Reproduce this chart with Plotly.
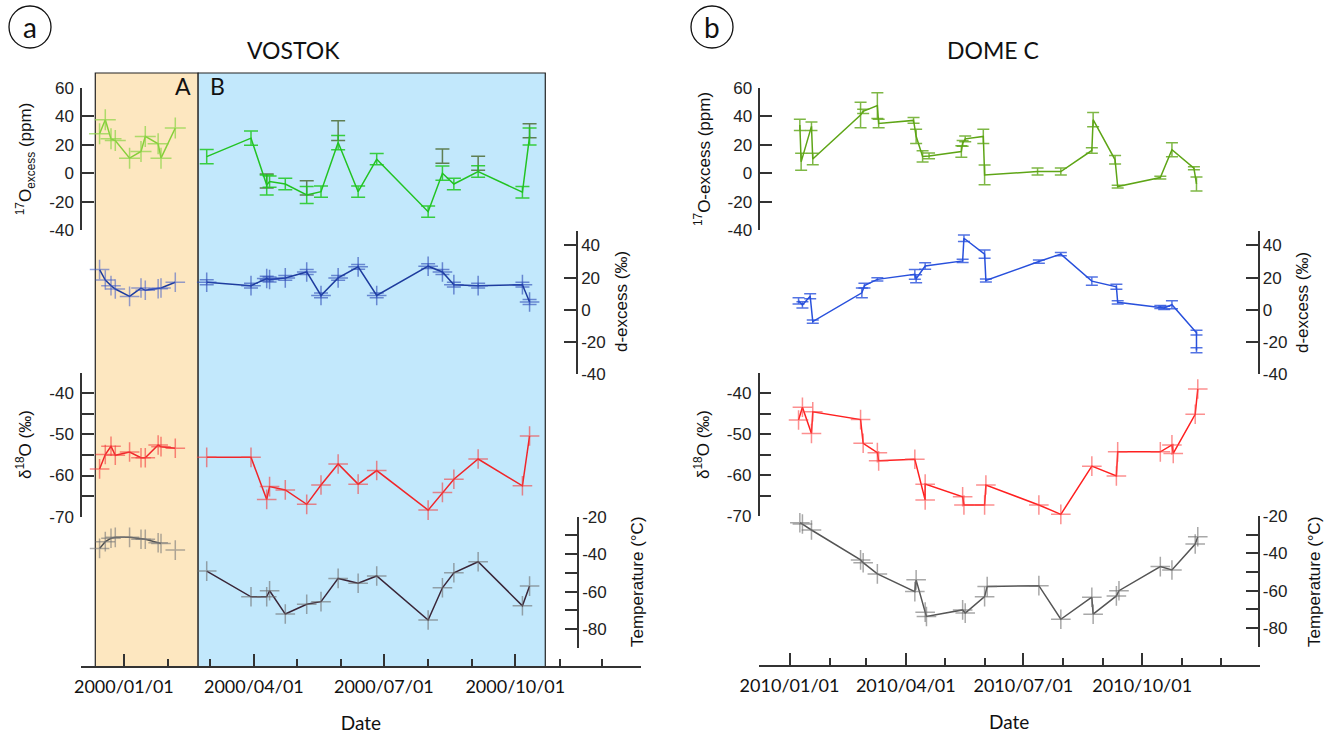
import plotly.graph_objects as go

W, H = 1338, 740


def fx(px):
    return px / W


def fy(py):
    return 1 - py / H


# ---------------- VOSTOK : period A ----------------
vos_a_dates = ["1999-12-15", "1999-12-19", "1999-12-23", "1999-12-26", "2000-01-05",
               "2000-01-13", "2000-01-16", "2000-01-25", "2000-01-27", "2000-02-06"]
vos_a_o17 = [27.8, 37.7, 24.2, 23.0, 10.6, 15.3, 25.9, 20.7, 10.6, 31.8]
vos_a_dex = [25.0, 18.5, 15.0, 12.9, 8.3, 13.5, 12.1, 13.1, 13.5, 17.1]
vos_a_d18o = [-58.4, -54.9, -52.9, -55.1, -54.3, -55.7, -55.7, -52.6, -53.0, -53.4]
vos_a_temp = [-36.9, -33.3, -31.5, -31.0, -31.0, -32.0, -32.0, -33.9, -34.3, -37.8]

# ---------------- VOSTOK : period B ----------------
vos_b_dates = ["2000-02-28", "2000-03-30", "2000-04-10", "2000-04-12", "2000-04-23",
               "2000-05-08", "2000-05-18", "2000-05-30", "2000-06-13", "2000-06-26",
               "2000-08-01", "2000-08-11", "2000-08-19", "2000-09-05", "2000-10-06", "2000-10-11"]
vos_b_o17 = [11.7, 24.7, -8.3, -5.9, -7.6, -15.3, -13.0, 21.6, -13.0, 9.9, -27.1, 0.0, -7.6, 1.2, -13.4, 25.9]
vos_b_o17_err = [5, 5, 7, 4, 4, 6, 4, 5, 4, 4, 4, 5, 4, 4, 4, 6]
vos_b_dex = [17.1, 15.0, 19.4, 18.8, 19.8, 23.5, 8.9, 19.8, 26.7, 8.9, 27.1, 23.5, 15.6, 15.0, 15.6, 4.8]
vos_b_dex_err = [1.5] * 16
vos_b_d18o = [-55.6, -55.6, -65.8, -62.7, -63.5, -67.0, -62.3, -57.2, -62.1, -58.8, -68.4, -64.1, -60.9, -56.0, -62.5, -50.4]
vos_b_temp = [-49.0, -62.7, -62.7, -59.5, -71.9, -66.7, -65.3, -52.9, -55.5, -51.6, -75.1, -57.9, -49.9, -44.0, -67.5, -57.0]

# replicate 17O-excess measurements (darker bars)
vos_rep_dates = ["2000-04-10", "2000-05-08", "2000-05-30", "2000-08-11", "2000-09-05", "2000-10-11"]
vos_rep_o17 = [-5.5, -10.4, 30.0, 12.0, 7.0, 29.9]
vos_rep_err = [5, 5, 7, 5, 5, 5]

vos_regions = [("1999-12-12", "2000-02-22", "#FDE7C0"), ("2000-02-22", "2000-10-22", "#C2E8FC")]

# ---------------- DOME C ----------------
dc_o17_dates = ["2010-01-09", "2010-01-10", "2010-01-18", "2010-01-19", "2010-02-25", "2010-02-27",
                "2010-03-10", "2010-03-11", "2010-04-07", "2010-04-09", "2010-04-14", "2010-04-19",
                "2010-05-14", "2010-05-15", "2010-05-17", "2010-05-31", "2010-06-01", "2010-07-12",
                "2010-07-30", "2010-08-23", "2010-08-24", "2010-09-10", "2010-09-12", "2010-10-15",
                "2010-10-24", "2010-11-10", "2010-11-12"]
dc_o17 = [34.0, 8.0, 33.0, 10.0, 41.0, 43.5, 47.6, 35.0, 37.2, 26.0, 11.8, 12.2, 15.3, 21.0, 24.2,
          25.9, -1.2, 1.2, 1.2, 16.0, 37.7, 9.4, -9.4, -3.1, 16.5, 3.5, -7.6]
dc_o17_err = [4, 6, 3, 4, 9, 1.5, 9, 3, 2, 5, 4, 2, 4, 2, 2, 5, 7, 2.5, 2.5, 2, 5, 3, 1, 1, 5, 1, 5]

dc_dex_dates = ["2010-01-08", "2010-01-11", "2010-01-17", "2010-01-19", "2010-02-26", "2010-02-28",
                "2010-03-10", "2010-04-08", "2010-04-09", "2010-04-16", "2010-05-15", "2010-05-16",
                "2010-06-01", "2010-06-02", "2010-07-13", "2010-07-30", "2010-08-23", "2010-09-11",
                "2010-09-12", "2010-10-15", "2010-10-18", "2010-10-24", "2010-11-12", "2010-11-12"]
dc_dex = [5.5, 3.0, 8.4, -7.4, 10.5, 15.0, 18.9, 22.0, 19.3, 27.2, 30.4, 44.5, 34.6, 18.2, 30.0,
          34.6, 17.8, 14.3, 4.6, 1.7, 1.1, 3.1, -14.3, -25.2]
dc_dex_err = [2, 2, 1.5, 1, 3, 1.5, 1, 3, 2.5, 2, 1, 2, 2.5, 1, 1, 1, 2.5, 1.5, 1, 1, 1, 2.5, 1.5, 1.5]

dc_d18o_dates = ["2010-01-08", "2010-01-11", "2010-01-18", "2010-01-19", "2010-02-25", "2010-02-27",
                 "2010-03-10", "2010-03-11", "2010-04-08", "2010-04-16", "2010-04-16", "2010-05-15",
                 "2010-05-16", "2010-06-01", "2010-06-02", "2010-07-13", "2010-07-30", "2010-08-23",
                 "2010-09-11", "2010-09-12", "2010-10-15", "2010-10-24", "2010-10-25", "2010-11-11",
                 "2010-11-13"]
dc_d18o = [-46.5, -43.4, -49.8, -44.5, -46.4, -52.2, -54.5, -56.5, -56.1, -66.1, -62.2, -65.3, -67.3,
           -67.3, -62.4, -67.3, -69.6, -57.8, -60.2, -54.3, -54.3, -52.6, -54.7, -45.1, -38.9]

dc_temp_dates = ["2010-01-09", "2010-01-11", "2010-01-18", "2010-02-25", "2010-02-27", "2010-03-10",
                 "2010-04-08", "2010-04-09", "2010-04-16", "2010-04-17", "2010-05-15", "2010-05-17",
                 "2010-06-01", "2010-06-03", "2010-07-13", "2010-07-30", "2010-08-23", "2010-08-24",
                 "2010-09-11", "2010-09-13", "2010-10-15", "2010-10-24", "2010-11-11", "2010-11-13"]
dc_temp = [-23.6, -24.3, -27.5, -43.5, -45.0, -51.0, -60.5, -54.2, -71.5, -73.8, -70.3, -72.0, -63.2,
           -57.8, -57.3, -75.3, -63.5, -72.6, -62.8, -60.0, -47.1, -48.9, -35.0, -31.1]

# tick values of the y axes
o17_ticks = [-40, -20, 0, 20, 40, 60]
dex_ticks = [-40, -20, 0, 20, 40]
d18o_ticks = [-70, -60, -50, -40]
d18o_minor = [-65, -55, -45, -35]
temp_ticks = [-80, -60, -40, -20]
temp_minor = [-90, -70, -50, -30]

# axis titles
t_o17_vos = "<sup>17</sup>O<sub>excess</sub> (ppm)"
t_o17_dc = "<sup>17</sup>O-excess (ppm)"
t_dex = "d-excess (‰)"
t_d18o = "δ<sup>18</sup>O (‰)"
t_temp = "Temperature (°C)"
t_date = "Date"

# ---------------- figure ----------------
fig = go.Figure()


def cross(color, size=14):
    return dict(symbol="cross-thin", size=size, line=dict(width=1.5, color=color), color=color)


# Vostok A
fig.add_trace(go.Scatter(x=vos_a_dates, y=vos_a_o17, mode="lines+markers", xaxis="x", yaxis="y",
                         line=dict(color="#86CF3A", width=1.5), marker=cross("rgba(140,212,70,0.7)", 15),
                         cliponaxis=False))
fig.add_trace(go.Scatter(x=vos_a_dates, y=vos_a_dex, mode="lines+markers", xaxis="x", yaxis="y2",
                         line=dict(color="#1E3C9E", width=1.5), marker=cross("rgba(60,90,200,0.55)", 14),
                         cliponaxis=False))
fig.add_trace(go.Scatter(x=vos_a_dates, y=vos_a_d18o, mode="lines+markers", xaxis="x", yaxis="y3",
                         line=dict(color="#F0262A", width=1.5), marker=cross("rgba(245,60,60,0.6)", 14),
                         cliponaxis=False))
fig.add_trace(go.Scatter(x=vos_a_dates[:9], y=vos_a_temp[:9], mode="lines", xaxis="x", yaxis="y4",
                         line=dict(color="#555555", width=1.5), cliponaxis=False))
fig.add_trace(go.Scatter(x=vos_a_dates, y=vos_a_temp, mode="markers", xaxis="x", yaxis="y4",
                         marker=cross("rgba(120,120,120,0.6)", 14), cliponaxis=False))

# Vostok B
fig.add_trace(go.Scatter(x=vos_rep_dates, y=vos_rep_o17, mode="markers", xaxis="x", yaxis="y",
                         marker=dict(size=1, color="rgba(0,0,0,0)"),
                         error_y=dict(type="data", array=vos_rep_err, color="rgba(70,100,40,0.8)",
                                      thickness=1.5, width=7), cliponaxis=False))
fig.add_trace(go.Scatter(x=vos_b_dates, y=vos_b_o17, mode="lines", xaxis="x", yaxis="y",
                         line=dict(color="#22C322", width=1.5),
                         error_y=dict(type="data", array=vos_b_o17_err, color="rgba(30,200,30,0.85)",
                                      thickness=1.5, width=7), cliponaxis=False))
fig.add_trace(go.Scatter(x=vos_b_dates, y=vos_b_dex, mode="lines+markers", xaxis="x", yaxis="y2",
                         line=dict(color="#1E3C9E", width=1.5), marker=cross("rgba(40,70,180,0.6)", 14),
                         error_y=dict(type="data", array=vos_b_dex_err, color="rgba(40,70,180,0.6)",
                                      thickness=1.5, width=7), cliponaxis=False))
fig.add_trace(go.Scatter(x=vos_b_dates, y=vos_b_d18o, mode="lines+markers", xaxis="x", yaxis="y3",
                         line=dict(color="#F0262A", width=1.5), marker=cross("rgba(245,60,60,0.6)", 14),
                         cliponaxis=False))
fig.add_trace(go.Scatter(x=vos_b_dates, y=vos_b_temp, mode="lines+markers", xaxis="x", yaxis="y4",
                         line=dict(color="#3A2638", width=1.5), marker=cross("rgba(110,110,110,0.6)", 14),
                         cliponaxis=False))

# Dome C
fig.add_trace(go.Scatter(x=dc_o17_dates, y=dc_o17, mode="lines", xaxis="x2", yaxis="y5",
                         line=dict(color="#5EA516", width=1.5),
                         error_y=dict(type="data", array=dc_o17_err, color="rgba(94,165,22,0.8)",
                                      thickness=1.5, width=6), cliponaxis=False))
fig.add_trace(go.Scatter(x=dc_dex_dates, y=dc_dex, mode="lines", xaxis="x2", yaxis="y6",
                         line=dict(color="#2850DC", width=1.5),
                         error_y=dict(type="data", array=dc_dex_err, color="rgba(40,80,220,0.8)",
                                      thickness=1.5, width=6), cliponaxis=False))
fig.add_trace(go.Scatter(x=dc_d18o_dates, y=dc_d18o, mode="lines+markers", xaxis="x2", yaxis="y7",
                         line=dict(color="#FF2020", width=1.5), marker=cross("rgba(250,70,70,0.6)", 14),
                         cliponaxis=False))
fig.add_trace(go.Scatter(x=dc_temp_dates, y=dc_temp, mode="lines+markers", xaxis="x2", yaxis="y8",
                         line=dict(color="#555555", width=1.5), marker=cross("rgba(110,110,110,0.6)", 14),
                         cliponaxis=False))

AXC = "#333333"
arial = "Liberation Sans, Arial"
lato = "Lato"
tickfont = dict(family=arial, size=17, color="#222")
titlefont = dict(family=arial, size=17, color="#111")
ycommon = dict(showline=True, linecolor=AXC, linewidth=1.5, ticks="inside", tickcolor=AXC,
               tickwidth=1.5, ticklen=12, showgrid=False, zeroline=False, tickfont=tickfont,
               anchor="free", fixedrange=True, automargin=False, tickmode="array")
xcommon = dict(type="date", showline=True, linecolor=AXC, linewidth=1.5, ticks="inside",
               ticklen=12, tickcolor=AXC, tickwidth=1.5, dtick="M3", tickformat="%Y/%m/%d",
               showgrid=False, zeroline=False, anchor="free", automargin=False,
               ticklabelstandoff=4, fixedrange=True,
               tickfont=dict(family=lato, size=18, color="#111"),
               minor=dict(dtick="M1", ticks="inside", ticklen=7, tickcolor=AXC, tickwidth=1.5,
                          showgrid=False))


def lab(vals):
    return [str(v) for v in vals]


def minor_y(vals):
    return dict(tickmode="array", tickvals=vals, ticks="inside", ticklen=12, tickcolor=AXC,
                tickwidth=1.5, showgrid=False)


def ytitle(text, standoff):
    return dict(text=text, font=titlefont, standoff=standoff)


xtitle = dict(text=t_date, font=dict(family=lato, size=19, color="#111"), standoff=19)

layout = dict(
    width=W, height=H, margin=dict(l=0, r=0, t=0, b=0, pad=0, autoexpand=False),
    paper_bgcolor="white", plot_bgcolor="rgba(0,0,0,0)", showlegend=False,
    xaxis=dict(**xcommon, domain=[fx(81), fx(641)], range=["1999-12-02", "2000-12-28"],
               tick0="2000-01-01", position=fy(667), title=xtitle),
    xaxis2=dict(**xcommon, domain=[fx(758.5), fx(1259.8)], range=["2009-12-08", "2010-12-31"],
                tick0="2010-01-01", position=fy(666), title=xtitle),
    yaxis=dict(**ycommon, domain=[fy(230), fy(88)], range=[-40, 60], tickvals=o17_ticks,
               ticktext=lab(o17_ticks), position=fx(81), side="left", ticklabelstandoff=3,
               title=ytitle(t_o17_vos, 12)),
    yaxis2=dict(**ycommon, domain=[fy(374), fy(231)], range=[-40, 49], tickvals=dex_ticks,
                ticktext=lab(dex_ticks), position=fx(577), side="right"),
    yaxis3=dict(**ycommon, domain=[fy(516.7), fy(372.5)], range=[-70, -35], tickvals=d18o_ticks,
                ticktext=lab(d18o_ticks), minor=minor_y(d18o_minor), position=fx(81), side="left",
                ticklabelstandoff=3, title=ytitle(t_d18o, 12)),
    yaxis4=dict(**ycommon, domain=[fy(648), fy(516.7)], range=[-90, -20], tickvals=temp_ticks,
                ticktext=lab(temp_ticks), minor=minor_y(temp_minor), position=fx(578), side="right"),
    yaxis5=dict(**ycommon, domain=[fy(230), fy(88)], range=[-40, 60], tickvals=o17_ticks,
                ticktext=lab(o17_ticks), position=fx(759.3), side="left", ticklabelstandoff=3,
                title=ytitle(t_o17_dc, 12)),
    yaxis6=dict(**ycommon, domain=[fy(374), fy(231)], range=[-40, 49], tickvals=dex_ticks,
                ticktext=lab(dex_ticks), position=fx(1258.7), side="right"),
    yaxis7=dict(**ycommon, domain=[fy(516), fy(373)], range=[-70, -35], tickvals=d18o_ticks,
                ticktext=lab(d18o_ticks), minor=minor_y(d18o_minor), position=fx(758.5), side="left",
                ticklabelstandoff=3, title=ytitle(t_d18o, 12)),
    yaxis8=dict(**ycommon, domain=[fy(646.7), fy(516)], range=[-90, -20], tickvals=temp_ticks,
                ticktext=lab(temp_ticks), minor=minor_y(temp_minor), position=fx(1258.7), side="right"),
)
fig.update_layout(**layout)

shapes = []
for x0, x1, col in vos_regions:
    shapes.append(dict(type="rect", xref="x", yref="paper", x0=x0, x1=x1, y0=fy(667), y1=fy(73),
                       fillcolor=col, line=dict(color="#222", width=1.2), layer="below"))
for cx in (30, 712):
    shapes.append(dict(type="circle", xref="paper", yref="paper", x0=fx(cx - 21), x1=fx(cx + 21),
                       y0=fy(48), y1=fy(6), line=dict(color="#111", width=1.3)))
fig.update_layout(shapes=shapes)

ann = []


def txt(px, py, text, size, family, angle=0, color="#111"):
    ann.append(dict(x=fx(px), y=fy(py), xref="paper", yref="paper", text=text, showarrow=False,
                    xanchor="center", yanchor="middle", textangle=angle,
                    font=dict(family=family, size=size, color=color)))


txt(30, 27, "a", 28, lato)
txt(712, 27, "b", 28, lato)
txt(293, 50, "VOSTOK", 23, lato)
txt(993, 50, "DOME C", 23, lato)
txt(183, 86, "A", 23, lato)
txt(218, 86, "B", 23, lato)
txt(621, 302, t_dex, 17, arial, -90)
txt(637, 582, t_temp, 17, arial, -90)
txt(1303, 303, t_dex, 17, arial, -90)
txt(1314, 582, t_temp, 17, arial, -90)
fig.update_layout(annotations=ann)

fig.write_html("out.html", config={"displayModeBar": False},
               post_script="document.body.style.margin='0px';")
